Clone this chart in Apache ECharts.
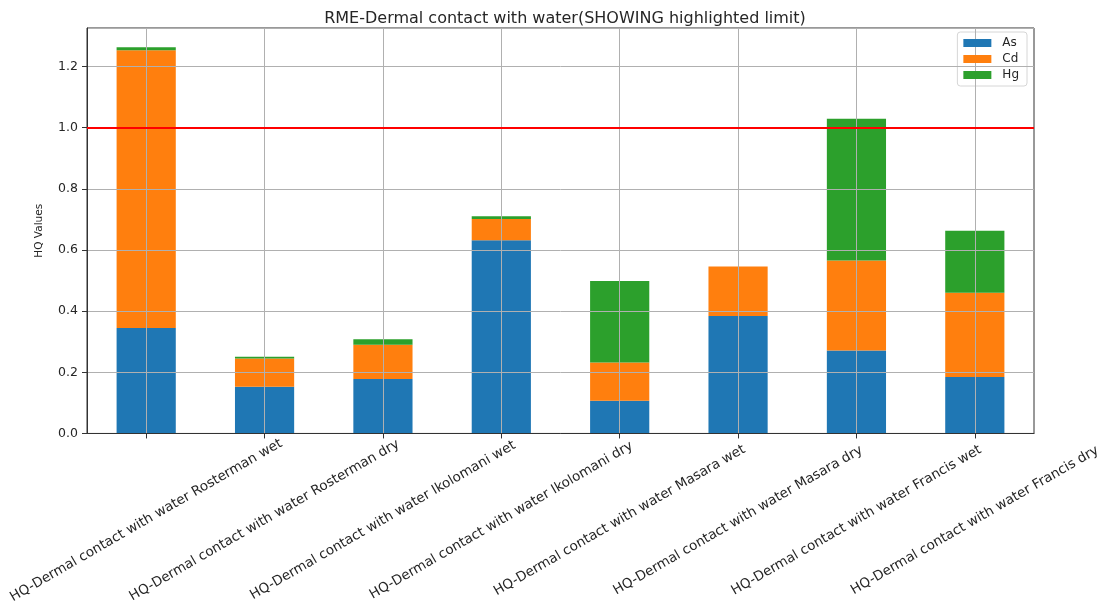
<!DOCTYPE html>
<html>
<head>
<meta charset="utf-8">
<script src="https://cdn.jsdelivr.net/npm/echarts@6/dist/echarts.min.js"></script>
<style>
  html, body { margin: 0; padding: 0; background: #ffffff; }
  #chart { width: 1106px; height: 606px; }
</style>
</head>
<body>
<div id="chart"></div>
<script>
// Sampling sites (stacked bar categories)
const categories = [
  'HQ-Dermal contact with water Rosterman wet',
  'HQ-Dermal contact with water Rosterman dry',
  'HQ-Dermal contact with water Ikolomani wet',
  'HQ-Dermal contact with water Ikolomani dry',
  'HQ-Dermal contact with water Masara wet',
  'HQ-Dermal contact with water Masara dry',
  'HQ-Dermal contact with water Francis wet',
  'HQ-Dermal contact with water Francis dry'
];

// Hazard quotient per metal
const asValues = [0.345, 0.153, 0.178, 0.632, 0.107, 0.384, 0.271, 0.185];
const cdValues = [0.908, 0.092, 0.112, 0.069, 0.125, 0.162, 0.295, 0.275];
const hgValues = [0.010, 0.006, 0.018, 0.009, 0.267, 0.000, 0.463, 0.203];

// Acceptable HQ limit
const hqLimit = 1.0;

const yMax = 1.326;
const yStep = 0.2;

const font = 'DejaVu Sans';
const inkColor = '#262626';

const chart = echarts.init(document.getElementById('chart'), null, { renderer: 'canvas' });

const series = [
  { name: 'As', data: asValues, color: '#1f77b4' },
  { name: 'Cd', data: cdValues, color: '#ff7f0e' },
  { name: 'Hg', data: hgValues, color: '#2ca02c' }
].map(function (s, i) {
  const item = {
    name: s.name,
    type: 'bar',
    stack: 'hq',
    data: s.data,
    barWidth: '50%',
    itemStyle: { color: s.color },
    emphasis: { disabled: true },
    z: 2
  };
  if (i === 2) {
    item.markLine = {
      silent: true,
      symbol: 'none',
      label: { show: false },
      lineStyle: { color: '#ff0000', width: 2, type: 'solid' },
      data: [{ yAxis: hqLimit }],
      z: 10
    };
  }
  return item;
});

chart.setOption({
  animation: false,
  backgroundColor: '#ffffff',
  title: {
    text: 'RME-Dermal contact with water(SHOWING highlighted limit)',
    left: 560,
    textAlign: 'center',
    top: 6,
    textStyle: { fontFamily: font, fontSize: 16, fontWeight: 'normal', color: inkColor }
  },
  legend: {
    orient: 'vertical',
    right: 79,
    top: 32,
    itemWidth: 28,
    itemHeight: 8,
    itemGap: 4,
    padding: [5, 8, 5, 6],
    borderColor: '#d6d6d6',
    borderWidth: 1,
    borderRadius: 3,
    backgroundColor: 'rgba(255,255,255,0.8)',
    icon: 'rect',
    textStyle: { fontFamily: font, fontSize: 12, color: inkColor, padding: [0, 0, 0, 6] },
    data: ['As', 'Cd', 'Hg']
  },
  grid: {
    left: 87,
    right: 72,
    top: 28,
    bottom: 162,
    show: true,
    borderColor: '#333333',
    borderWidth: 1,
    backgroundColor: 'transparent',
    containLabel: false
  },
  xAxis: {
    type: 'category',
    data: categories,
    boundaryGap: true,
    z: 4,
    axisLine: { show: true, lineStyle: { color: '#333333', width: 1 } },
    axisTick: { show: true, alignWithLabel: true, length: 5, lineStyle: { color: '#333333' } },
    splitLine: { show: true, alignWithLabel: true, lineStyle: { color: '#b0b0b0', width: 1 } },
    axisLabel: {
      interval: 0,
      rotate: 30,
      align: 'center',
      verticalAlign: 'middle',
      margin: 87,
      fontFamily: font,
      fontSize: 13.5,
      color: inkColor
    }
  },
  yAxis: {
    type: 'value',
    min: 0,
    max: yMax,
    interval: yStep,
    z: 4,
    name: 'HQ Values',
    nameLocation: 'middle',
    nameGap: 42,
    nameRotate: 90,
    nameTextStyle: { fontFamily: font, fontSize: 10.5, color: inkColor },
    axisLine: { show: true, lineStyle: { color: '#333333', width: 1 } },
    axisTick: { show: true, length: 5, lineStyle: { color: '#333333' } },
    splitLine: { show: true, lineStyle: { color: '#b0b0b0', width: 1 } },
    axisLabel: {
      showMaxLabel: false,
      margin: 9,
      fontFamily: font,
      fontSize: 12.5,
      color: inkColor,
      formatter: function (v) { return v.toFixed(1); }
    }
  },
  series: series
});
</script>
</body>
</html>
